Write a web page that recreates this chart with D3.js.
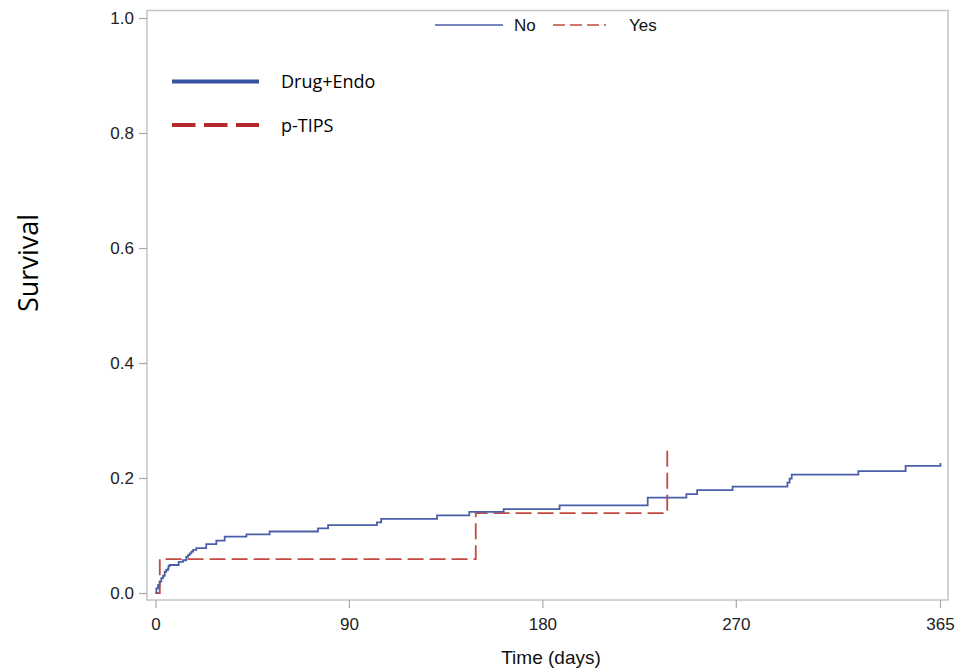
<!DOCTYPE html>
<html>
<head>
<meta charset="utf-8">
<script src="https://cdn.jsdelivr.net/npm/d3@7"></script>
<style>
    body { margin: 0; background: #fff; }
    svg { display: block; }
</style>
</head>
<body>
<div id="chart"></div>
<script>
// Step points [day, value]
const noSteps = [
    [0, 0], [0.4, 0.008], [1.2, 0.014], [1.9, 0.020], [2.7, 0.026], [3.5, 0.030],
    [4.3, 0.037], [5.0, 0.040], [5.8, 0.043], [6.1, 0.047], [6.6, 0.0487],
    [10.8, 0.054], [12.8, 0.057], [14.3, 0.063], [15.1, 0.066], [15.9, 0.069],
    [16.7, 0.072], [17.5, 0.075], [19, 0.078], [23.6, 0.085], [28.3, 0.091],
    [32.2, 0.098], [42.3, 0.102], [53.1, 0.107], [75.6, 0.1125], [80.3, 0.118],
    [103, 0.123], [105, 0.129], [131, 0.135], [146, 0.141], [162, 0.146],
    [188, 0.1525], [229, 0.166], [247, 0.172], [252, 0.179], [268.5, 0.185],
    [294, 0.192], [295, 0.199], [296, 0.206], [327, 0.212], [349, 0.221],
    [365, 0.221], [365.2, 0.226]
];
const yesSteps = [[0, 0], [2, 0.059], [149, 0.139], [238, 0.139], [238.1, 0.25]];

const xTicks = [0, 90, 180, 270, 365];
const yTicks = [0, 0.2, 0.4, 0.6, 0.8, 1.0];
const groupLabels = ["No", "Yes"];
const overlayLabels = ["Drug+Endo", "p-TIPS"];

const width = 959;
const height = 670;
const frame = { left: 147, right: 948, top: 10.5, bottom: 600 };

const blue = "#4a5fa8";
const red = "#c24a3e";
const sasFont = "Liberation Sans, Arial, sans-serif";

const svg = d3.select("#chart").append("svg")
    .attr("width", width)
    .attr("height", height);

const x = d3.scaleLinear().domain([0, 365]).range([155.5, 940]);
const y = d3.scaleLinear().domain([0, 1]).range([593, 18]);

// plot frame
svg.append("rect")
    .attr("x", frame.left)
    .attr("y", frame.top)
    .attr("width", frame.right - frame.left)
    .attr("height", frame.bottom - frame.top)
    .attr("fill", "none")
    .attr("stroke", "#c4c4c4")
    .attr("stroke-width", 1.5);

// axes
const yAxis = d3.axisLeft(y)
    .tickValues(yTicks)
    .tickFormat(d3.format(".1f"))
    .tickSize(8)
    .tickPadding(5);

const xAxis = d3.axisBottom(x)
    .tickValues(xTicks)
    .tickFormat(d3.format("d"))
    .tickSize(8)
    .tickPadding(10);

const gy = svg.append("g")
    .attr("transform", `translate(${frame.left},0)`)
    .call(yAxis);

const gx = svg.append("g")
    .attr("transform", `translate(0,${frame.bottom})`)
    .call(xAxis);

[gx, gy].forEach(g => {
    g.select(".domain").remove();
    g.selectAll(".tick line").attr("stroke", "#a8a8a8").attr("stroke-width", 1.2);
    g.selectAll(".tick text")
        .attr("fill", "#222")
        .attr("font-family", sasFont)
        .attr("font-size", "17px");
});

// axis titles
svg.append("text")
    .attr("x", 551)
    .attr("y", 664)
    .attr("text-anchor", "middle")
    .attr("font-family", sasFont)
    .attr("font-size", "19px")
    .attr("fill", "#111")
    .text("Time (days)");

svg.append("text")
    .attr("transform", "translate(38,263) rotate(-90)")
    .attr("text-anchor", "middle")
    .attr("font-family", "Open Sans, sans-serif")
    .attr("font-size", "27px")
    .attr("fill", "#000")
    .text("Survival");

// curves
const line = d3.line()
    .x(d => x(d[0]))
    .y(d => y(d[1]))
    .curve(d3.curveStepAfter);

svg.append("path")
    .datum(yesSteps)
    .attr("d", line)
    .attr("fill", "none")
    .attr("stroke", red)
    .attr("stroke-width", 1.8)
    .attr("stroke-dasharray", "16,6");

svg.append("path")
    .datum(noSteps)
    .attr("d", line)
    .attr("fill", "none")
    .attr("stroke", blue)
    .attr("stroke-width", 1.8);

// top legend (No / Yes)
svg.append("line")
    .attr("x1", 435).attr("x2", 503)
    .attr("y1", 25).attr("y2", 25)
    .attr("stroke", blue)
    .attr("stroke-width", 1.3);
svg.append("text")
    .attr("x", 514).attr("y", 31)
    .attr("font-family", sasFont)
    .attr("font-size", "17px")
    .attr("fill", "#111")
    .text(groupLabels[0]);
svg.append("line")
    .attr("x1", 553).attr("x2", 619)
    .attr("y1", 25).attr("y2", 25)
    .attr("stroke", red)
    .attr("stroke-width", 1.3)
    .attr("stroke-dasharray", "12,5,12,5,12,5,2,20");
svg.append("text")
    .attr("x", 629).attr("y", 31)
    .attr("font-family", sasFont)
    .attr("font-size", "17px")
    .attr("fill", "#111")
    .text(groupLabels[1]);

// overlay legend (Drug+Endo / p-TIPS)
const overlay = [
    { label: overlayLabels[0], color: "#3a52a2", dash: null, yPos: 81.5 },
    { label: overlayLabels[1], color: "#b2282b", dash: "23.5,8.5", yPos: 125 }
];
overlay.forEach(o => {
    svg.append("line")
        .attr("x1", 172).attr("x2", 259)
        .attr("y1", o.yPos).attr("y2", o.yPos)
        .attr("stroke", o.color)
        .attr("stroke-width", 4)
        .attr("stroke-dasharray", o.dash);
    svg.append("text")
        .attr("x", 281).attr("y", o.yPos + 6.5)
        .attr("font-family", "Open Sans, sans-serif")
        .attr("font-size", "18px")
        .attr("fill", "#000")
        .text(o.label);
});
</script>
</body>
</html>
